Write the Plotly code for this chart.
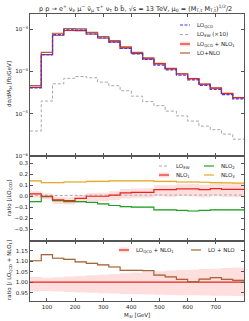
import plotly.graph_objects as go

# ---------------- data ----------------
edges = [40 + 40 * i for i in range(20)]  # 40 ... 800 GeV, 19 bins

lo_qcd = [4.1e-5, 2.5e-4, 7.45e-4, 9.7e-4, 9.5e-4, 7.7e-4, 6.2e-4, 4.95e-4, 3.5e-4, 2.6e-4,
          1.93e-4, 1.42e-4, 1.09e-4, 8.15e-5, 6.35e-5, 4.7e-5, 3.75e-5, 2.82e-5, 2.25e-5]
lo_ew_x10 = [3.9e-6, 2.0e-5, 5.1e-5, 6.9e-5, 7.6e-5, 7.1e-5, 5.6e-5, 4.6e-5, 3.5e-5, 2.6e-5,
             1.94e-5, 1.55e-5, 1.15e-5, 8.9e-6, 6.7e-6, 5.1e-6, 4.2e-6, 3.3e-6, 2.5e-6]

# ratios to LO_QCD
nlo1 = [0.022, 0.0, -0.034, -0.04, -0.02, 0.0, 0.0, 0.01, 0.03, 0.035,
        0.035, 0.06, 0.06, 0.068, 0.068, 0.06, 0.07, 0.063, 0.063]
nlo1_lo = [-0.015, -0.03, -0.07, -0.075, -0.06, -0.045, -0.045, -0.035, -0.02, -0.015,
           -0.015, 0.0, -0.005, 0.0, -0.002, -0.01, 0.0, -0.008, -0.01]
nlo1_hi = [0.045, 0.025, -0.005, -0.01, 0.01, 0.03, 0.032, 0.045, 0.065, 0.07,
           0.072, 0.1, 0.1, 0.11, 0.112, 0.105, 0.118, 0.11, 0.112]
nlo2 = [-0.05, -0.005, -0.04, -0.05, -0.05, -0.057, -0.07, -0.085, -0.095, -0.1,
        -0.1, -0.125, -0.125, -0.13, -0.135, -0.13, -0.125, -0.125, -0.125]
nlo3 = [0.14, 0.125, 0.125, 0.13, 0.13, 0.135, 0.135, 0.14, 0.14, 0.14,
        0.14, 0.135, 0.135, 0.13, 0.13, 0.128, 0.125, 0.122, 0.12]

# ratios to LO_QCD + NLO_1
lonlo_ratio = [1.103, 1.132, 1.115, 1.11, 1.098, 1.09, 1.083, 1.073, 1.057, 1.057,
               1.056, 1.034, 1.026, 1.014, 1.003, 1.015, 1.022, 1.014, 1.009]
band_lo = [0.957, 0.958, 0.955, 0.953, 0.951, 0.95, 0.947, 0.946, 0.944, 0.942,
           0.941, 0.94, 0.939, 0.938, 0.937, 0.936, 0.935, 0.935, 0.934]
band_hi = [1.025, 1.022, 1.024, 1.027, 1.03, 1.033, 1.036, 1.04, 1.043, 1.046,
           1.05, 1.053, 1.056, 1.058, 1.06, 1.063, 1.065, 1.068, 1.07]

xticks = [100, 200, 300, 400, 500, 600, 700]

# derived quantities
lo_nlo1 = [a * (1 + r) for a, r in zip(lo_qcd, nlo1)]
lo_nlo = [a * r for a, r in zip(lo_nlo1, lonlo_ratio)]
lo_ew_rat = [e / 10 / q for e, q in zip(lo_ew_x10, lo_qcd)]
ones = [1.0] * len(lo_qcd)

# ---------------- style ----------------
FONT = "DejaVu Sans"
TXT = "#222222"
BLUE = "#3a3af0"
GRAY = "#a8a8a8"
RED = "#e8231c"
BROWN = "#a5653a"
TAN = "rgba(205,150,105,0.45)"
GREEN = "#24a024"
YELLOW = "#e2aa28"
PINK = "rgba(255,60,60,0.17)"
AXC = "#555555"
FS_TICK = 5.5
FS_LAB = 5.5
FS_LEG = 5.5
FS_TITLE = 6.5

W, H = 249, 321
X_LEFT, X_RIGHT, Y_TOP, Y_BOT = 30, 244, 14, 301  # plot area in pixels
L, R, T, B = X_LEFT, W - X_RIGHT, Y_TOP, H - Y_BOT
PW, PH = X_RIGHT - X_LEFT, Y_BOT - Y_TOP


def px_x(px):
    return (px - X_LEFT) / PW


def px_y(py):
    return (Y_BOT - py) / PH


def step(vals):
    return edges[:], list(vals) + [vals[-1]]


fig = go.Figure()


def line(vals, color, axis, dash="solid", width=1.2):
    x, y = step(vals)
    fig.add_trace(go.Scatter(x=x, y=y, mode="lines", line=dict(color=color, width=width, dash=dash, shape="hv"),
                             xaxis=axis[0], yaxis=axis[1], showlegend=False, hoverinfo="skip"))


def band(lo, hi, color, axis):
    x, ylo = step(lo)
    _, yhi = step(hi)
    fig.add_trace(go.Scatter(x=x, y=ylo, mode="lines", line=dict(width=0, shape="hv"),
                             xaxis=axis[0], yaxis=axis[1], showlegend=False, hoverinfo="skip"))
    fig.add_trace(go.Scatter(x=x, y=yhi, mode="lines", line=dict(width=0, shape="hv"), fill="tonexty",
                             fillcolor=color, xaxis=axis[0], yaxis=axis[1], showlegend=False, hoverinfo="skip"))


A1, A2, A3 = ("x", "y"), ("x2", "y2"), ("x3", "y3")

# top panel
band([a * b for a, b in zip(lo_nlo1, band_lo)], [a * b for a, b in zip(lo_nlo1, band_hi)], PINK, A1)
band([a * 0.985 for a in lo_nlo], [a * 1.015 for a in lo_nlo], TAN, A1)
line(lo_ew_x10, GRAY, A1, dash="3px,2px", width=1.0)
line(lo_nlo, BROWN, A1)
line(lo_nlo1, RED, A1)
line(lo_qcd, BLUE, A1, dash="3px,1.5px", width=1.2)

# middle panel
band(nlo1_lo, nlo1_hi, PINK, A2)
band([v - 0.006 for v in nlo3], [v + 0.006 for v in nlo3], "rgba(235,190,80,0.35)", A2)
band([v - 0.005 for v in nlo2], [v + 0.005 for v in nlo2], "rgba(60,170,60,0.3)", A2)
line(lo_ew_rat, GRAY, A2, dash="3px,2px", width=1.0)
line(nlo3, YELLOW, A2)
line(nlo2, GREEN, A2)
line(nlo1, RED, A2)

# bottom panel
band(band_lo, band_hi, PINK, A3)
band([v - 0.003 for v in lonlo_ratio], [v + 0.003 for v in lonlo_ratio], TAN, A3)
line(ones, RED, A3)
line(lonlo_ratio, BROWN, A3)

# ---------------- axes ----------------
axcommon = dict(showline=True, linecolor=AXC, linewidth=1, mirror="ticks", ticks="inside", ticklen=3,
                tickcolor=AXC, tickwidth=1, showgrid=False, zeroline=False,
                tickfont=dict(family=FONT, size=FS_TICK, color=TXT))

d1 = (px_y(156), 1.0)
d2 = (px_y(240.5), px_y(156))
d3 = (0.0, px_y(240.5))

xcommon = dict(axcommon, range=[40, 800], tickvals=xticks)
fig.update_layout(
    xaxis=dict(xcommon, domain=[0, 1], anchor="y", showticklabels=False),
    xaxis2=dict(xcommon, domain=[0, 1], anchor="y2", matches="x", showticklabels=False),
    xaxis3=dict(xcommon, domain=[0, 1], anchor="y3", matches="x", showticklabels=True),
    yaxis=dict(axcommon, domain=list(d1), anchor="x", type="log", range=[-6, -2.64],
               tickvals=[1e-6, 1e-5, 1e-4, 1e-3],
               ticktext=["10<sup>−6</sup>", "10<sup>−5</sup>", "10<sup>−4</sup>", "10<sup>−3</sup>"]),
    yaxis2=dict(axcommon, domain=list(d2), anchor="x2", range=[-0.405, 0.368],
                tickvals=[-0.3, -0.2, -0.1, 0.0, 0.1, 0.2, 0.3],
                ticktext=["−0.3", "−0.2", "−0.1", "0.0", "0.1", "0.2", "0.3"]),
    yaxis3=dict(axcommon, domain=list(d3), anchor="x3", range=[0.91, 1.2],
                tickvals=[0.95, 1.0, 1.05, 1.1, 1.15],
                ticktext=["0.95", "1.00", "1.05", "1.10", "1.15"]),
    width=W, height=H,
    margin=dict(l=L, r=R, t=T, b=B, autoexpand=False),
    paper_bgcolor="white", plot_bgcolor="white",
    showlegend=False,
    font=dict(family=FONT, size=FS_TICK, color=TXT),
)

# ---------------- title, axis labels & legends ----------------
ann = []
shapes = []


def text(s, px, py, size, angle=0, xanchor="center"):
    ann.append(dict(text=s, xref="paper", yref="paper", x=px_x(px), y=px_y(py), xanchor=xanchor,
                    yanchor="middle", showarrow=False, textangle=angle,
                    font=dict(family=FONT, size=size, color=TXT)))


text("p p → e<sup>+</sup> ν<sub>e</sub> μ<sup>−</sup> ν̄<sub>μ</sub> τ<sup>+</sup> ν<sub>τ</sub> b b̄, √s = 13 TeV, "
     "μ<sub>0</sub> = (M<sub>T,t</sub> M<sub>T,t̄</sub>)<sup>1/2</sup>/2", 135, 8.5, FS_TITLE)
text("M<sub>3ℓ</sub> [GeV]", 137, 315, FS_LAB)
text("dσ/dM<sub>3ℓ</sub> [fb/GeV]", 9, 84, FS_LAB, angle=-90)
text("ratio [/LO<sub>QCD</sub>]", 9, 198, FS_LAB, angle=-90)
text("ratio [/ LO<sub>QCD</sub> + NLO<sub>1</sub>]", 9, 270, FS_LAB, angle=-90)


def leg(x0, x1, y, color, label, dash="solid", pink=False, width=1.2):
    if pink:
        shapes.append(dict(type="rect", xref="paper", yref="paper", x0=px_x(x0), x1=px_x(x1),
                           y0=px_y(y + 2.5), y1=px_y(y - 2.5), fillcolor=PINK, line=dict(width=0)))
    shapes.append(dict(type="line", xref="paper", yref="paper", x0=px_x(x0), x1=px_x(x1), y0=px_y(y), y1=px_y(y),
                       line=dict(color=color, width=width, dash=dash)))
    text(label, x1 + 5, y, FS_LEG, xanchor="left")


# top legend
leg(180, 190, 25, BLUE, "LO<sub>QCD</sub>", dash="3px,1.5px")
leg(180, 190, 34.5, GRAY, "LO<sub>EW</sub> (×10)", dash="3px,2px", width=1.0)
leg(180, 190, 44, RED, "LO<sub>QCD</sub> + NLO<sub>1</sub>", pink=True)
leg(180, 190, 53, BROWN, "LO+NLO")
# middle legend
leg(159, 169, 166, GRAY, "LO<sub>EW</sub>", dash="3px,2px", width=1.0)
leg(159, 169, 175, RED, "NLO<sub>1</sub>", pink=True)
leg(204, 214, 166, GREEN, "NLO<sub>2</sub>")
leg(204, 214, 175, YELLOW, "NLO<sub>3</sub>")
# bottom legend
leg(119, 129, 250, RED, "LO<sub>QCD</sub> + NLO<sub>1</sub>", pink=True)
leg(191, 201, 250, BROWN, "LO + NLO")

fig.update_layout(annotations=ann, shapes=shapes)

# remove the browser's default 8px page margin so the figure sits at the window's corner
fig.write_html("out.html", config={"displayModeBar": False},
               post_script="document.body.style.margin='0px';")
